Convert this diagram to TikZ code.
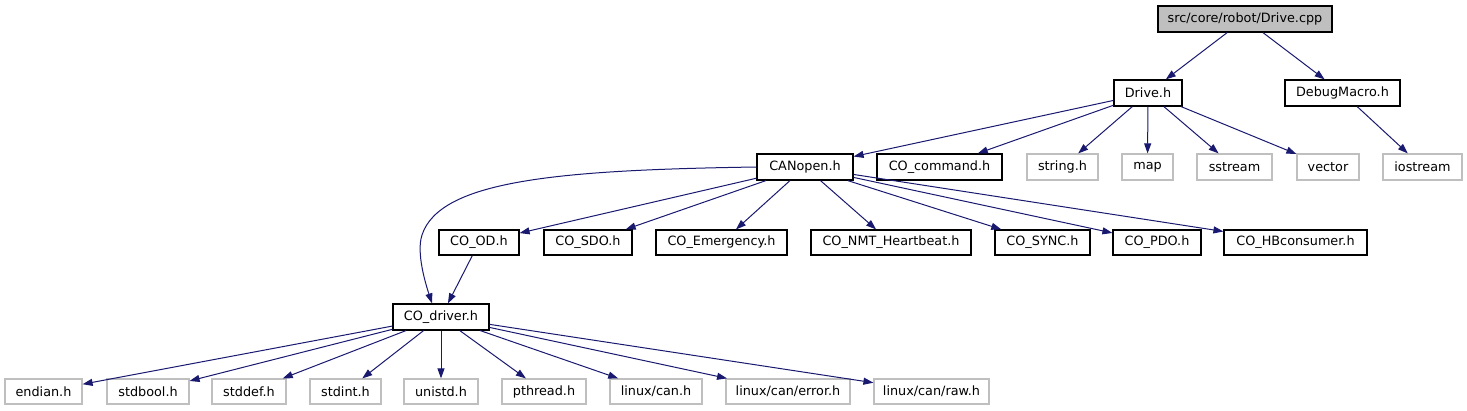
\documentclass[tikz,border=0pt]{standalone}
\definecolor{dxGrey}{RGB}{191,191,191}
\definecolor{dxEdge}{RGB}{25,25,112}
\usepackage{tikz}
\usepackage{fontspec}
\newfontfamily\dxsans{DejaVu Sans}
\usetikzlibrary{shapes,arrows,positioning}
\usetikzlibrary{arrows.meta}

\begin{document}
\begin{tikzpicture}[x=1pt,y=-1pt,
    hdr/.style={draw=black, fill=white, line width=1.2pt, inner sep=0pt, minimum height=26, font={\dxsans\fontsize{12.8}{15}\selectfont}},
    sys/.style={hdr, draw=dxGrey},
    edge/.style={draw=dxEdge, line width=1pt, -{Triangle[length=10pt,width=7pt]}}]
    \useasboundingbox (0,0) rectangle (1467,411);

    % root file
    \node[hdr, fill=dxGrey, minimum width=174] (cpp) at (1245,19) {src/core/robot/Drive.cpp};

    % second row
    \node[hdr, minimum width=68]  (drive) at (1148,93)   {Drive.h};
    \node[hdr, minimum width=115] (debug) at (1342.5,93) {DebugMacro.h};

    % third row
    \node[hdr, minimum width=96]  (canopen) at (805,167)    {CANopen.h};
    \node[hdr, minimum width=125] (cocmd)   at (939.5,167)  {CO\_command.h};
    \node[sys, minimum width=71]  (string)  at (1062.5,167) {string.h};
    \node[sys, minimum width=51]  (map)     at (1147.5,167) {map};
    \node[sys, minimum width=75]  (sstream) at (1234.5,167) {sstream};
    \node[sys, minimum width=62]  (vector)  at (1328,167)   {vector};
    \node[sys, minimum width=79]  (iostream) at (1422.5,167) {iostream};

    % CANopen stack
    \node[hdr, minimum width=80, minimum height=25]  (cood)   at (479,242.5)    {CO\_OD.h};
    \node[hdr, minimum width=88, minimum height=25]  (cosdo)  at (588,242.5)    {CO\_SDO.h};
    \node[hdr, minimum width=131, minimum height=25] (coemcy) at (721.5,242.5)  {CO\_Emergency.h};
    \node[hdr, minimum width=160, minimum height=25] (conmt)  at (891,242.5)    {CO\_NMT\_Heartbeat.h};
    \node[hdr, minimum width=95, minimum height=25]  (cosync) at (1042.5,242.5) {CO\_SYNC.h};
    \node[hdr, minimum width=88, minimum height=25]  (copdo)  at (1157,242.5)   {CO\_PDO.h};
    \node[hdr, minimum width=143, minimum height=25] (cohb)   at (1295.5,242.5) {CO\_HBconsumer.h};

    % driver
    \node[hdr, minimum width=96] (codriver) at (441,317) {CO\_driver.h};

    % system headers
    \node[sys, minimum width=77, minimum height=25]  (endian)  at (43.5,391.5)  {endian.h};
    \node[sys, minimum width=82, minimum height=25]  (stdbool) at (148,391.5)   {stdbool.h};
    \node[sys, minimum width=74, minimum height=25]  (stddef)  at (249,391.5)   {stddef.h};
    \node[sys, minimum width=71, minimum height=25]  (stdint)  at (345.5,391.5) {stdint.h};
    \node[sys, minimum width=74, minimum height=25]  (unistd)  at (441,391.5)   {unistd.h};
    \node[sys, minimum width=84, minimum height=25]  (pthread) at (544,391.5)   {pthread.h};
    \node[sys, minimum width=92, minimum height=25]  (lcan)    at (656,391.5)   {linux/can.h};
    \node[sys, minimum width=124, minimum height=25] (lcanerr) at (788,391.5)   {linux/can/error.h};
    \node[sys, minimum width=115, minimum height=25] (lcanraw) at (931.5,391.5) {linux/can/raw.h};

    % includes
    \draw[edge] (cpp) -- (drive);
    \draw[edge] (cpp) -- (debug);
    \foreach \dst in {canopen,cocmd,string,map,sstream,vector}
        \draw[edge] (drive) -- (\dst);
    \draw[edge] (debug) -- (iostream);
    \foreach \dst in {cood,cosdo,coemcy,conmt,cosync,copdo,cohb}
        \draw[edge] (canopen) -- (\dst);
    \draw[edge] (canopen.west) .. controls (560,170) and (440,180) .. (422,235)
        .. controls (416,253) and (426,285) .. ([xshift=-9pt]codriver.north);
    \draw[edge] (cood) -- (codriver);
    \foreach \dst in {endian,stdbool,stddef,stdint,unistd,pthread,lcan,lcanerr,lcanraw}
        \draw[edge] (codriver) -- (\dst);
\end{tikzpicture}
\end{document}
